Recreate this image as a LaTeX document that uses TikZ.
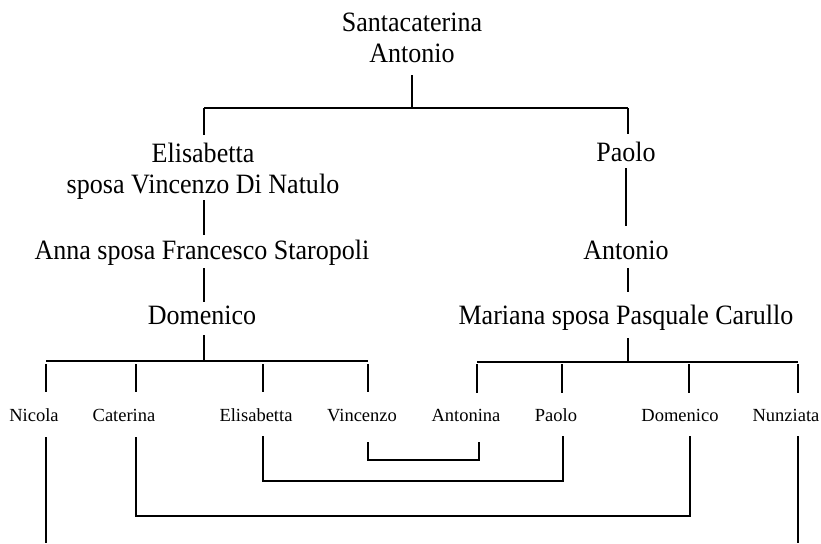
\documentclass[tikz,border=0pt]{standalone}
\usepackage{fontspec}
\setmainfont{Liberation Serif}
\newfontfamily\bigserif{Liberation Serif}[FakeStretch=0.93]
\usetikzlibrary{calc}
\begin{document}
\begin{tikzpicture}[x=1pt,y=-1pt,
  big/.style={font=\bigserif\fontsize{28}{32}\selectfont, inner sep=0pt, anchor=base},
  small/.style={font=\fontsize{18.5}{22}\selectfont, inner sep=0pt, anchor=base},
  link/.style={line width=1.8pt, line cap=butt}]
\useasboundingbox[fill=white] (0,0) rectangle (821,543);
% generation 1
\node[big] (top1) at (412,32) {Santacaterina};
\node[big] (top2) at (412,63) {Antonio};
% left branch
\node[big] (eli1) at (203,162) {Elisabetta};
\node[big] (eli2) at (203,193) {sposa Vincenzo Di Natulo};
\node[big] (anna) at (202,259) {Anna sposa Francesco Staropoli};
\node[big] (dom) at (202,324) {Domenico};
% right branch
\node[big] (pao) at (626,161) {Paolo};
\node[big] (ant) at (626,259) {Antonio};
\node[big] (mar) at (626,324) {Mariana sposa Pasquale Carullo};
% children
\node[small] (nic) at (34,421) {Nicola};
\node[small] (cat) at (124,421) {Caterina};
\node[small] (eli) at (256,421) {Elisabetta};
\node[small] (vin) at (362,421) {Vincenzo};
\node[small] (atn) at (466,421) {Antonina};
\node[small] (pa2) at (556,421) {Paolo};
\node[small] (do2) at (680,421) {Domenico};
\node[small] (nun) at (786,421) {Nunziata};
% junction coordinates
\coordinate (jt) at (412,108);
\coordinate (jl) at (204,108);
\coordinate (jr) at (628,108);
\coordinate (jd) at (204,361);
\coordinate (jm) at (628,362);
% top fork
\draw[link] (412,75) -- (jt);
\draw[link] (jl) -- (jr);
\draw[link] (jl) -- (204,135);
\draw[link] (jr) -- (628,134);
% left descent
\draw[link] (204,200) -- (204,235);
\draw[link] (204,268) -- (204,302);
\draw[link] (204,335) -- (jd);
\draw[link] (46,361) -- (368,361);
% right descent
\draw[link] (626,168) -- (626,226);
\draw[link] (628,268) -- (628,292);
\draw[link] (628,338) -- (jm);
\draw[link] (477,362) -- (798,362);
% ticks to children
\foreach \x in {46,136,263,368} \draw[link] (\x,364) -- (\x,392);
\foreach \x in {477,562,689,798} \draw[link] (\x,364) -- (\x,393);
% lower connectors
\draw[link] (46,437) -- (46,543);
\draw[link] (798,436) -- (798,543);
\draw[link] (136,437) -- (136,516) -- (690,516) -- (690,436);
\draw[link] (263,436) -- (263,481) -- (563,481) -- (563,436);
\draw[link] (368,442) -- (368,460) -- (479,460) -- (479,442);
\end{tikzpicture}
\end{document}
